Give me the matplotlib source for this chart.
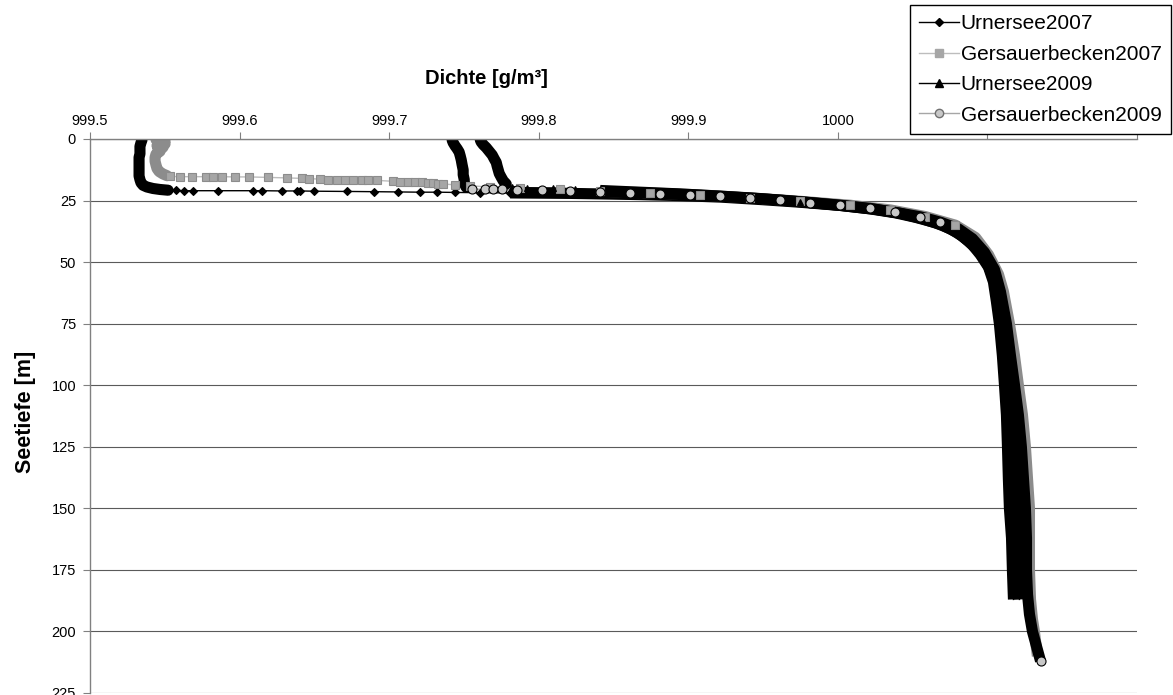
import matplotlib
matplotlib.use("Agg")
import matplotlib.pyplot as plt
from matplotlib.lines import Line2D
from matplotlib.ticker import FuncFormatter

plt.rcParams['font.family'] = ['Liberation Sans', 'DejaVu Sans']

# Urnersee 2007 (surface blob, sparse layer, thermocline + deep water)
u07_top_dens = [999.5348, 999.5341, 999.5334, 999.5334, 999.5334, 999.5328, 999.5328, 999.5328, 999.5328,
                999.5328, 999.5328, 999.5334, 999.5341, 999.5355, 999.5381, 999.5421, 999.5468, 999.5522]
u07_top_depth = [0.3, 1.5, 3, 4.5, 6, 7.5, 9, 10.5, 12, 13.5, 15, 16.5, 17.8, 18.8, 19.5, 20.1, 20.5, 20.8]
u07_mid_dens = [999.5575, 999.5629, 999.5689, 999.5856, 999.6090, 999.6151, 999.6284, 999.6385, 999.6405,
                999.6498, 999.6719, 999.6900, 999.7060, 999.7207, 999.7321, 999.7441, 999.7609]
u07_mid_depth = [20.9, 21.0, 21.0, 21.0, 21.0, 21.0, 21.1, 21.1, 21.1, 21.2, 21.3, 21.4, 21.5, 21.6, 21.6, 21.7, 21.8]
u07_deep_dens = [999.7809, 999.8010, 999.8211, 999.8411, 999.8679, 999.8946, 999.9214, 999.9482, 999.9749,
                 1000.0017, 1000.0217, 1000.0385, 1000.0518, 1000.0652, 1000.0753, 1000.0833, 1000.0900,
                 1000.0953, 1000.1007, 1000.1040, 1000.1060, 1000.1080, 1000.1100, 1000.1114, 1000.1127,
                 1000.1134, 1000.1140, 1000.1147, 1000.1161, 1000.1167, 1000.1174]
u07_deep_depth = [21.9, 22.0, 22.1, 22.3, 22.6, 23.0, 23.6, 24.6, 25.7, 27.0, 28.4, 30.0, 31.8, 34.0, 36.5,
                  39.5, 43, 47, 52, 58, 66, 75, 88, 100, 112, 125, 138, 150, 162, 175, 187]

# Gersauerbecken 2007
g07_top_dens = [999.5441, 999.5502, 999.5455, 999.5502, 999.5448, 999.5488, 999.5455, 999.5468, 999.5441,
                999.5435, 999.5435, 999.5441, 999.5448, 999.5462, 999.5488, 999.5515]
g07_top_depth = [0.2, 0.8, 1.4, 2.0, 2.7, 3.4, 4.2, 5.0, 6.2, 7.5, 9, 10.5, 12, 13.2, 14.2, 14.9]
g07_mid_dens = [999.5535, 999.5602, 999.5682, 999.5776, 999.5823, 999.5883, 999.5970, 999.6064, 999.6191,
                999.6318, 999.6418, 999.6465, 999.6538, 999.6592, 999.6652, 999.6706, 999.6759, 999.6819,
                999.6860, 999.6920, 999.7027, 999.7074, 999.7127, 999.7174, 999.7221, 999.7261, 999.7294,
                999.7328, 999.7361, 999.7441, 999.7542, 999.7676, 999.7876, 999.8144]
g07_mid_depth = [15.2, 15.3, 15.3, 15.3, 15.3, 15.3, 15.4, 15.4, 15.6, 15.8, 16.0, 16.1, 16.3, 16.5, 16.6,
                 16.6, 16.7, 16.7, 16.7, 16.8, 17.2, 17.3, 17.3, 17.5, 17.6, 17.8, 17.9, 18.1, 18.3, 18.6, 19.0,
                 19.5, 20.0, 20.5]
g07_deep_dens = [999.8411, 999.8746, 999.9080, 999.9415, 999.9749, 1000.0084,
                 1000.0351, 1000.0585, 1000.0786, 1000.0920, 1000.1007, 1000.1074, 1000.1107, 1000.1147,
                 1000.1181, 1000.1207, 1000.1234, 1000.1254, 1000.1268, 1000.1281, 1000.1281, 1000.1281,
                 1000.1288, 1000.1301, 1000.1314, 1000.1334]
g07_deep_depth = [21.2, 21.9, 22.7, 23.9, 25.3, 26.9, 28.8, 31.5, 35, 40, 47, 55, 62, 75,
                  88, 100, 112, 125, 138, 150, 162, 175, 187, 195, 200, 210]

# Urnersee 2009
u09_top_dens = [999.7609, 999.7615, 999.7629, 999.7649, 999.7669, 999.7689, 999.7702, 999.7716, 999.7722,
                999.7729, 999.7736, 999.7749, 999.7763, 999.7783]
u09_top_depth = [0.3, 1.2, 2.3, 3.5, 5, 6.5, 8, 9.5, 11, 12.5, 14, 15.5, 17, 18.3]
u09_mid_dens = [999.7823, 999.7923, 999.8097, 999.8244]
u09_mid_depth = [19.3, 19.8, 19.9, 20.3]
u09_deep_dens = [999.8411, 999.8679, 999.8946, 999.9214, 999.9482, 999.9749, 1000.0017, 1000.0251, 1000.0418,
                 1000.0565, 1000.0699, 1000.0799, 1000.0873, 1000.0940, 1000.0993, 1000.1040, 1000.1074,
                 1000.1107, 1000.1127, 1000.1140, 1000.1154, 1000.1167, 1000.1181, 1000.1187, 1000.1194,
                 1000.1207, 1000.1214]
u09_deep_depth = [20.9, 21.6, 22.3, 23.2, 24.2, 25.5, 27.0, 28.6, 30.2, 32.4, 35, 38, 41.5, 45.5, 50, 56, 64,
                  75, 88, 100, 112, 125, 138, 150, 162, 175, 187]

# Gersauerbecken 2009
g09_top_dens = [999.7421, 999.7428, 999.7441, 999.7455, 999.7468, 999.7475, 999.7482, 999.7488, 999.7495,
                999.7495, 999.7502, 999.7502, 999.7508, 999.7515]
g09_top_depth = [0.4, 1.5, 2.8, 4, 5.3, 6.8, 8.5, 10.5, 12.6, 14.5, 16.5, 17.8, 18.8, 19.6]
g09_mid_dens = [999.7555, 999.7642, 999.7696, 999.7756, 999.7856, 999.8023, 999.8211]
g09_mid_depth = [20.3, 20.5, 20.5, 20.5, 20.8, 20.9, 21.0]
g09_deep_dens = [999.8411, 999.8612, 999.8813, 999.9013, 999.9214, 999.9415, 999.9615, 999.9816, 1000.0017,
                 1000.0217, 1000.0385, 1000.0552, 1000.0686, 1000.0806, 1000.0900, 1000.0980, 1000.1047,
                 1000.1087, 1000.1127, 1000.1154, 1000.1181, 1000.1207, 1000.1227, 1000.1241, 1000.1254,
                 1000.1261, 1000.1261, 1000.1268, 1000.1281, 1000.1301, 1000.1328, 1000.1355]
g09_deep_depth = [21.4, 21.8, 22.2, 22.7, 23.3, 24.0, 24.8, 25.8, 26.9, 28.2, 29.8, 31.6, 33.8, 36.5, 40.5,
                  46, 53, 62, 75, 88, 100, 112, 125, 138, 150, 162, 175, 185, 193, 200, 206, 212]

labels = ['Urnersee2007', 'Gersauerbecken2007', 'Urnersee2009', 'Gersauerbecken2009']
x_ticks = [999.5, 999.6, 999.7, 999.8, 999.9, 1000.0, 1000.1, 1000.2]
y_ticks = [0, 25, 50, 75, 100, 125, 150, 175, 200, 225]

BAND_LW = 8


def plot_profile(ax, top, mid, deep, line_color, band_color, mk, ms, mfc, mec, last_marker=False):
    dens = top[0] + mid[0] + deep[0]
    depth = top[1] + mid[1] + deep[1]
    # single markers only show where the profile is sparse; elsewhere they merge into a solid band
    n_top = len(top[1])
    every = [i >= n_top and d < 36 for i, d in enumerate(depth)]
    if last_marker:
        every[-1] = True
    ax.plot(dens, depth, color=line_color, lw=1, zorder=1.5)
    ax.plot(top[0], top[1], color=band_color, lw=BAND_LW, solid_capstyle='round',
            solid_joinstyle='round', zorder=2)
    ax.plot(deep[0], deep[1], color=band_color, lw=BAND_LW, solid_capstyle='butt',
            solid_joinstyle='round', zorder=2)
    ax.plot(dens, depth, ls='none', marker=mk, ms=ms, mfc=mfc, mec=mec,
            mew=0.8, markevery=every, zorder=3)


def tick_text(v, pos):
    # the two rightmost labels sit under the legend
    if v > 1000.05:
        return ''
    return '%g' % round(v, 1)


def main():
    fig = plt.figure(figsize=(11.73, 6.95), dpi=100)
    ax = fig.add_axes([90 / 1173, 2 / 695, 1047 / 1173, 554 / 695])

    plot_profile(ax, (u07_top_dens, u07_top_depth), (u07_mid_dens, u07_mid_depth),
                 (u07_deep_dens, u07_deep_depth), 'black', 'black', 'D', 4.5, 'black', 'black')
    plot_profile(ax, (g07_top_dens, g07_top_depth), (g07_mid_dens, g07_mid_depth),
                 (g07_deep_dens, g07_deep_depth), '#bdbdbd', '#8c8c8c', 's', 5.5, '#a6a6a6', '#8c8c8c')
    plot_profile(ax, (u09_top_dens, u09_top_depth), (u09_mid_dens, u09_mid_depth),
                 (u09_deep_dens, u09_deep_depth), 'black', 'black', '^', 5, 'black', 'black')
    plot_profile(ax, (g09_top_dens, g09_top_depth), (g09_mid_dens, g09_mid_depth),
                 (g09_deep_dens, g09_deep_depth), '#a6a6a6', 'black', 'o', 6.5, '#c8c8c8', 'black',
                 last_marker=True)

    ax.set_xlim(999.5, 1000.2)
    ax.set_ylim(225, 0)
    ax.set_xticks(x_ticks)
    ax.set_yticks(y_ticks)
    ax.xaxis.set_major_formatter(FuncFormatter(tick_text))
    ax.xaxis.tick_top()
    ax.tick_params(axis='x', direction='out', length=5, color='#808080', labelsize=10.5, pad=3)
    ax.tick_params(axis='y', direction='out', length=5, color='#808080', labelsize=10.5, pad=5)
    ax.grid(axis='y', color='#5a5a5a', lw=0.8)
    ax.grid(axis='x', visible=False)
    ax.set_axisbelow(True)
    for side in ('right', 'bottom'):
        ax.spines[side].set_visible(False)
    for side in ('top', 'left'):
        ax.spines[side].set_color('#808080')
        ax.spines[side].set_linewidth(1)

    fig.text(486 / 1173, 1 - 78 / 695, 'Dichte [g/m³]', fontsize=14.5, fontweight='bold',
             ha='center', va='center')
    fig.text(25 / 1173, 1 - 412 / 695, 'Seetiefe [m]', fontsize=15.5, fontweight='bold',
             ha='center', va='center', rotation=90)

    handles = [
        Line2D([], [], color='black', lw=1, marker='D', ms=4.5, mfc='black', mec='black'),
        Line2D([], [], color='#bdbdbd', lw=1, marker='s', ms=6, mfc='#a6a6a6', mec='#a6a6a6'),
        Line2D([], [], color='black', lw=1, marker='^', ms=5.5, mfc='black', mec='black'),
        Line2D([], [], color='#a6a6a6', lw=1, marker='o', ms=6, mfc='#c8c8c8', mec='#707070'),
    ]
    leg = fig.legend(handles, labels, loc='upper right', bbox_to_anchor=(1171 / 1173, 1 - 5 / 695),
                     fontsize=15, frameon=True, fancybox=False, shadow=False, numpoints=1,
                     handlelength=1.9, handletextpad=0.1, labelspacing=0.55, borderpad=0.45,
                     borderaxespad=0)
    leg.get_frame().set_edgecolor('black')
    leg.get_frame().set_linewidth(1)
    leg.get_frame().set_alpha(1)

    fig.savefig('out.png', dpi=100)


if __name__ == "__main__":
    main()
